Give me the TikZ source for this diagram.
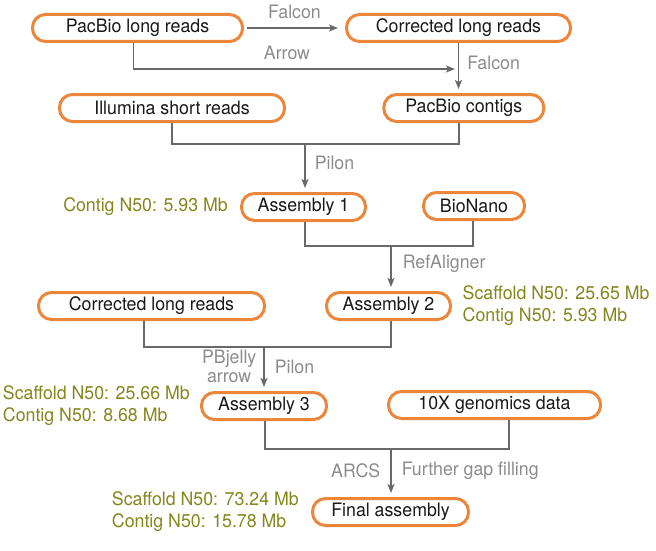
\documentclass[tikz,border=0pt]{standalone}
\usepackage{fontspec}
\setmainfont{TeX Gyre Heros}[FakeStretch=0.96]
\usetikzlibrary{arrows.meta,positioning}
\definecolor{boxorange}{RGB}{236,134,58}
\definecolor{linegray}{RGB}{105,105,105}
\definecolor{labelgray}{RGB}{140,140,140}
\definecolor{statolive}{RGB}{132,134,28}

\tikzset{
  box/.style={draw=boxorange, line width=3pt, rounded corners=13pt, fill=white,
    minimum height=27pt, inner sep=0pt, text=black!90},
  link/.style={draw=linegray, line width=1.5pt},
  arr/.style={link, shorten >=4pt, -{Stealth[length=9pt,width=7pt,inset=2pt]}},
  tool/.style={text=labelgray, inner sep=0pt},
  stat/.style={text=statolive, align=left, inner sep=0pt},
}

\begin{document}
\begin{tikzpicture}[x=1pt, y=-1pt, every node/.style={font=\fontsize{18.5}{22}\selectfont}]
  \useasboundingbox (0,0) rectangle (656,551);
  \foreach \n/\x/\y/\w/\t in {plr/137.5/28/210/PacBio long reads, clr/458.5/28/224/Corrected long reads,
    ill/172/108/225/Illumina short reads, ctg/463.8/108/160/PacBio contigs,
    asmA/303.5/207/124/Assembly 1, bnn/474/206/101/BioNano,
    clrB/151.5/306/226/Corrected long reads, asmB/388.5/306/124/Assembly 2,
    asmC/264/406/125/Assembly 3, tenx/494.5/405/212/10X genomics data,
    fin/390.5/512/156/Final assembly}
    \node[box, minimum width=\w pt] (\n) at (\x,\y) {\t};

  % reads to contigs
  \draw[arr, shorten <=3pt, shorten >=7pt] (plr.east) -- (clr.west) node[tool, midway, above=8pt] {Falcon};
  \coordinate (jA) at (458,69);
  \draw[arr, shorten >=3pt] ([xshift=-4pt]plr.south) |- (jA);
  \node[tool] at (287,53) {Arrow};
  \draw[arr] (clr.south) -- (clr.south |- ctg.north) node[tool, pos=0.4, right=8pt] {Falcon};

  % polishing and scaffolding
  \coordinate (mA) at (305,144);
  \draw[link] (ill.south) |- (mA) -| ([xshift=-5pt]ctg.south);
  \draw[arr] (mA) -- (mA |- asmA.north) node[tool, pos=0.4, right=9pt] {Pilon};

  \coordinate (mB) at (391,246);
  \draw[link] ([xshift=1.5pt]asmA.south) |- (mB) -| ([xshift=-1pt]bnn.south);
  \draw[arr] (mB) -- (mB |- asmB.north) node[tool, pos=0.4, right=11pt] {RefAligner};

  \coordinate (mC) at (264,347);
  \draw[link] ([xshift=-7.5pt]clrB.south) |- (mC) -| ([xshift=2.5pt]asmB.south);
  \draw[arr] (mC) -- (mC |- asmC.north)
    node[tool, pos=0.45, right=10pt] {Pilon}
    node[tool, pos=0.45, left=7pt, align=center, font=\fontsize{18.5}{19}\selectfont] {PBjelly\\arrow};

  \coordinate (mD) at (391,449);
  \draw[link] ([xshift=1pt]asmC.south) |- (mD) -| ([xshift=14.5pt]tenx.south);
  \draw[arr] (mD) -- (mD |- fin.north)
    node[tool, pos=0.45, left=10pt] {ARCS}
    node[tool, pos=0.45, right=10pt] {Further gap filling};

  % assembly statistics
  \node[stat, left=12pt of asmA] (sA) {Contig N50: 5.93 Mb};
  \node[stat, right=10.5pt of asmB] (sB) {Scaffold N50: 25.65 Mb\\Contig N50: 5.93 Mb};
  \node[stat, left=10pt of asmC] (sC) {Scaffold N50: 25.66 Mb\\Contig N50: 8.68 Mb};
  \node[stat, left=12pt of fin] (sD) {Scaffold N50: 73.24 Mb\\Contig N50: 15.78 Mb};
\end{tikzpicture}
\end{document}
